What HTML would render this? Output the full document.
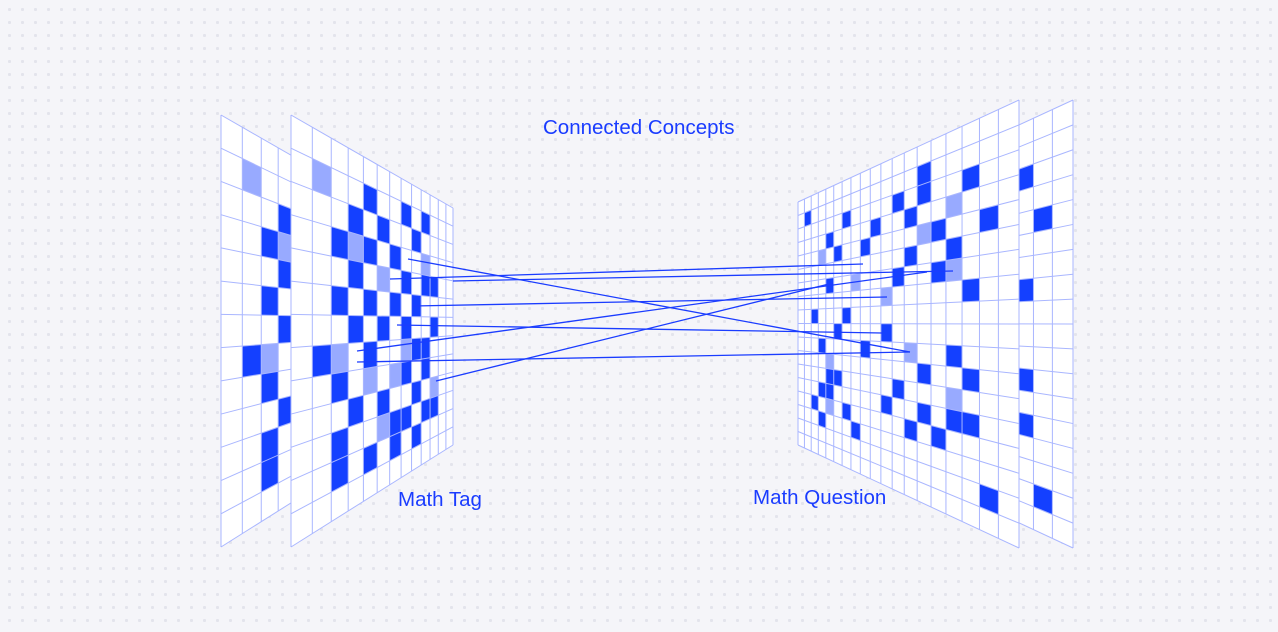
<!DOCTYPE html>
<html><head><meta charset="utf-8">
<style>
html,body{margin:0;padding:0;}
body{width:1278px;height:632px;overflow:hidden;background:#f5f5f9;
background-image:radial-gradient(circle,#e3e4ec 1.5px,transparent 1.7px);background-size:13px 13px;background-position:3px 3px;
font-family:"Liberation Sans",sans-serif;position:relative;}
.t{position:absolute;color:#1a3cff;font-size:20.5px;white-space:nowrap;}
svg{position:absolute;left:0;top:0;}
</style></head><body>
<svg id="s" width="1278" height="632" viewBox="0 0 1278 632"></svg>
<div class="t" style="left:543px;top:116px;">Connected Concepts</div>
<div class="t" style="left:398px;top:488px;">Math Tag</div>
<div class="t" style="left:753px;top:486px;">Math Question</div>
<script>
var NS="http://www.w3.org/2000/svg",S=document.getElementById("s");
function el(t,a){var e=document.createElementNS(NS,t);for(var k in a)e.setAttribute(k,a[k]);S.appendChild(e);return e;}
function panel(p){
 var N=p.nc,R=p.nr,s=p.s;
 function f(u){return u/(u+(1-u)*s);}
 function X(k){return p.x0+(p.x1-p.x0)*f(k/N);}
 function top(x){return p.t0+(x-p.x0)/(p.x1-p.x0)*(p.t1-p.t0);}
 function bot(x){return p.b0+(x-p.x0)/(p.x1-p.x0)*(p.b1-p.b0);}
 function Y(x,r){var t=top(x);return t+(bot(x)-t)*r/R;}
 el("polygon",{points:[p.x0,p.t0,p.x1,p.t1,p.x1,p.b1,p.x0,p.b0].join(","),fill:"#fff"});
 function cell(c,r,col){var xa=X(c),xb=X(c+1);
  el("polygon",{points:[xa,Y(xa,r),xb,Y(xb,r),xb,Y(xb,r+1),xa,Y(xa,r+1)].join(","),fill:col});}
 p.d.forEach(function(a){cell(a[0],a[1],"#1440ff");});
 p.l.forEach(function(a){cell(a[0],a[1],"#98aaff");});
 var g="#a9b6ff";
 for(var k=0;k<=N;k++){var x=X(k);el("line",{x1:x,y1:top(x),x2:x,y2:bot(x),stroke:g,"stroke-width":1});}
 for(var r=0;r<=R;r++){el("line",{x1:p.x0,y1:Y(p.x0,r),x2:p.x1,y2:Y(p.x1,r),stroke:g,"stroke-width":1});}
}
var LD=[[4,1],[3,2],[5,2],[7,1],[9,1],[2,3],[4,3],[6,3],[8,2],[10,4],[3,4],[7,4],[9,4],[2,5],[4,5],[6,5],[8,5],[3,6],[5,6],[7,6],[10,6],[1,7],[4,7],[8,7],[9,7],[9,8],[2,8],[7,8],[3,9],[5,9],[8,9],[6,10],[7,10],[9,10],[10,10],[2,10],[2,11],[4,11],[6,11],[8,11]];
var LL=[[1,1],[3,3],[9,3],[5,4],[2,7],[7,7],[4,8],[6,8],[10,9],[5,10]];
var RD=[[5,1],[5,2],[2,2],[7,2],[1,4],[17,1],[12,2],[9,3],[6,3],[4,4],[14,3],[10,4],[6,5],[3,5],[13,4],[4,6],[7,6],[14,6],[2,7],[16,8],[12,8],[13,9],[8,9],[15,10],[10,10],[3,10],[13,12],[14,12],[5,11],[2,11],[14,13],[15,13],[7,12],[16,14],[8,13],[5,13],[12,14],[3,13],[2,13],[15,15],[11,15],[6,14],[4,14],[1,16]];
var RL=[[3,3],[5,4],[15,4],[3,6],[11,6],[8,7],[6,10],[14,11],[3,12],[14,14]];
var L={nc:13,nr:13,s:0.55,t0:115,b0:547,t1:208,b1:445,d:LD,l:LL};
panel(Object.assign({},L,{x0:221,x1:383}));
panel(Object.assign({},L,{x0:291,x1:453}));
var R={nc:19,nr:18,s:0.54,t0:100,b0:548,t1:202,b1:445,d:RD,l:RL};
panel(Object.assign({},R,{x0:1073,x1:852}));
panel(Object.assign({},R,{x0:1019,x1:798}));
var lines=[[408,259,910,352],[390,279,863,264],[453,281,953,271],[413,306,887,297],[357,351,927,272],[397,325,882,333],[357,362,910,352],[436,381,833,283]];
lines.forEach(function(a){el("line",{x1:a[0],y1:a[1],x2:a[2],y2:a[3],stroke:"#1a3cff","stroke-width":1.3});});
</script>
</body></html>
